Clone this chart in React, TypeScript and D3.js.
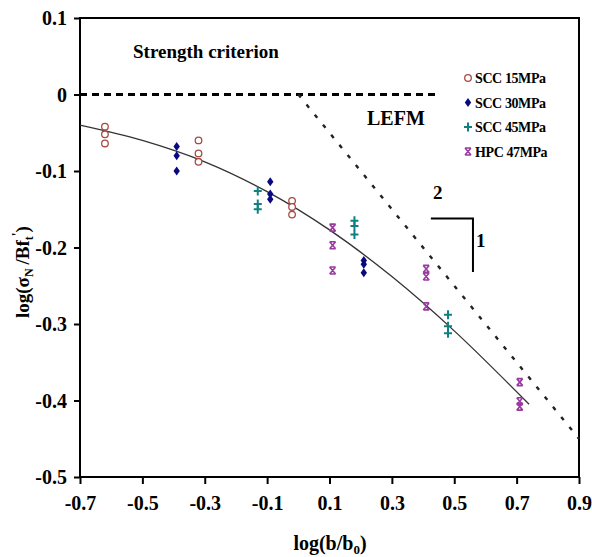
import React, { useEffect, useRef } from 'react';
import * as d3 from 'd3';

// measured points, [log(b/b0), log(sigmaN/Bft')]
const scc15 = [
  [-0.62, -0.042], [-0.62, -0.052], [-0.62, -0.064],
  [-0.32, -0.060], [-0.32, -0.077], [-0.32, -0.088],
  [-0.02, -0.139], [-0.02, -0.147], [-0.02, -0.157],
];
const scc30 = [
  [-0.39, -0.068], [-0.39, -0.080], [-0.39, -0.100],
  [-0.09, -0.114], [-0.09, -0.130], [-0.09, -0.137],
  [0.21, -0.217], [0.21, -0.222], [0.21, -0.233],
];
const scc45 = [
  [-0.13, -0.126], [-0.13, -0.143], [-0.13, -0.150],
  [0.18, -0.165], [0.18, -0.172], [0.18, -0.183],
  [0.48, -0.288], [0.48, -0.303], [0.48, -0.312],
];
const hpc47 = [
  [0.11, -0.174], [0.11, -0.197], [0.11, -0.230],
  [0.41, -0.228], [0.41, -0.238], [0.41, -0.277],
  [0.71, -0.376], [0.71, -0.401], [0.71, -0.408],
];
// fitted size effect curve
const fitCurve = [
  [-0.7, -0.040], [-0.5, -0.060], [-0.3, -0.088], [-0.1, -0.127],
  [0.1, -0.177], [0.3, -0.238], [0.5, -0.309], [0.74, -0.405],
];
const strengthLine = [[-0.7, 0], [0.45, 0]];
const lefmLine = [[0, 0], [0.9, -0.45]];
const slopeMark = [[0.425, -0.162], [0.56, -0.162], [0.56, -0.232]];

const xTicks = [-0.7, -0.5, -0.3, -0.1, 0.1, 0.3, 0.5, 0.7, 0.9];
const yTicks = [0.1, 0, -0.1, -0.2, -0.3, -0.4, -0.5];
const seriesNames = ['SCC 15MPa', 'SCC 30MPa', 'SCC 45MPa', 'HPC 47MPa'];

const FONT = '"Liberation Serif", "Times New Roman", serif';
const fmt = d => (d === 0 ? '0' : d.toFixed(1));

const App = () => {
  const ref = useRef(null);

  useEffect(() => {
    const width = 592;
    const height = 557;
    const margin = { top: 18, right: 13, bottom: 80, left: 80 };

    const x = d3.scaleLinear().domain([-0.7, 0.9]).range([margin.left, width - margin.right]);
    const y = d3.scaleLinear().domain([-0.5, 0.1]).range([height - margin.bottom, margin.top]);

    const svg = d3.select(ref.current)
      .attr('width', width)
      .attr('height', height);
    svg.selectAll('*').remove();

    // frame
    svg.append('rect')
      .attr('x', x(-0.7)).attr('y', y(0.1))
      .attr('width', x(0.9) - x(-0.7)).attr('height', y(-0.5) - y(0.1))
      .attr('fill', 'none').attr('stroke', '#000').attr('stroke-width', 2);

    const xAxis = svg.append('g')
      .attr('transform', `translate(0, ${y(-0.5)})`)
      .call(d3.axisBottom(x).tickValues(xTicks).tickSize(7).tickFormat(fmt));
    xAxis.select('.domain').remove();
    xAxis.selectAll('line').attr('stroke-width', 2);
    xAxis.selectAll('text')
      .attr('font-family', FONT).attr('font-size', 20).attr('font-weight', 'bold')
      .attr('dy', 0).attr('y', 33);

    const yAxis = svg.append('g')
      .attr('transform', `translate(${x(-0.7)}, 0)`)
      .call(d3.axisLeft(y).tickValues(yTicks).tickSize(6).tickFormat(fmt));
    yAxis.select('.domain').remove();
    yAxis.selectAll('line').attr('stroke-width', 2);
    yAxis.selectAll('text')
      .attr('font-family', FONT).attr('font-size', 20).attr('font-weight', 'bold')
      .attr('x', -13).attr('dy', '0.33em');

    const line = d3.line().x(d => x(d[0])).y(d => y(d[1]));

    svg.append('path')
      .attr('d', line(strengthLine))
      .attr('fill', 'none').attr('stroke', '#000')
      .attr('stroke-width', 3).attr('stroke-dasharray', '7,5');

    svg.append('path')
      .attr('d', line(lefmLine))
      .attr('fill', 'none').attr('stroke', '#222')
      .attr('stroke-width', 2.4).attr('stroke-dasharray', '4,9');

    const smooth = d3.line().x(d => x(d[0])).y(d => y(d[1])).curve(d3.curveCatmullRom);
    svg.append('path')
      .attr('d', smooth(fitCurve))
      .attr('fill', 'none').attr('stroke', '#333').attr('stroke-width', 1.3);

    svg.append('path')
      .attr('d', line(slopeMark))
      .attr('fill', 'none').attr('stroke', '#000').attr('stroke-width', 2);

    // markers
    const drawMarker = (g, type, cx, cy) => {
      if (type === 0) {
        g.append('circle').attr('cx', cx).attr('cy', cy).attr('r', 3.3)
          .attr('fill', '#fff').attr('stroke', '#a84a44').attr('stroke-width', 1.3);
      } else if (type === 1) {
        g.append('path')
          .attr('d', `M${cx},${cy - 4.5}L${cx + 3.2},${cy}L${cx},${cy + 4.5}L${cx - 3.2},${cy}Z`)
          .attr('fill', '#0a0a80');
      } else if (type === 2) {
        g.append('path')
          .attr('d', `M${cx - 4},${cy}H${cx + 4}M${cx},${cy - 4.5}V${cy + 4.5}`)
          .attr('stroke', '#118080').attr('stroke-width', 2).attr('fill', 'none');
      } else {
        g.append('path')
          .attr('d', `M${cx - 3},${cy - 3.5}L${cx + 3},${cy + 3.5}M${cx + 3},${cy - 3.5}L${cx - 3},${cy + 3.5}M${cx - 3},${cy - 3.5}H${cx + 3}M${cx - 3},${cy + 3.5}H${cx + 3}`)
          .attr('stroke', '#9a3aa0').attr('stroke-width', 1.6).attr('fill', 'none');
      }
    };

    const pts = svg.append('g');
    [scc15, scc30, scc45, hpc47].forEach((s, i) => {
      s.forEach(d => drawMarker(pts, i, x(d[0]), y(d[1])));
    });

    const label = (tx, ty, txt, size) => svg.append('text')
      .attr('x', tx).attr('y', ty)
      .attr('font-family', FONT)
      .attr('font-size', size).attr('font-weight', 'bold')
      .text(txt);

    // legend
    const legend = svg.append('g');
    seriesNames.forEach((name, i) => {
      const ly = 78 + i * 24.5;
      drawMarker(legend, i, 468, ly);
      label(475, ly + 5, name, 14).attr('letter-spacing', -0.4);
    });

    label(133, 58, 'Strength criterion', 19);
    label(367, 125, 'LEFM', 20);
    label(433, 199, '2', 19);
    label(476, 247, '1', 19);

    // axis titles
    const xt = label(330, 550, '', 20).attr('text-anchor', 'middle');
    xt.append('tspan').text('log(b/b');
    xt.append('tspan').attr('font-size', 13).attr('dy', 4).text('0');
    xt.append('tspan').attr('dy', -4).text(')');

    const yt = label(0, 0, '', 19)
      .attr('transform', 'translate(29, 318) rotate(-90)');
    yt.append('tspan').text('log(σ');
    yt.append('tspan').attr('font-size', 12).attr('dy', 4).text('N');
    yt.append('tspan').attr('dy', -4).text('\u2009/Bf');
    yt.append('tspan').attr('font-size', 12).attr('dy', 4).text('t');
    yt.append('tspan').attr('font-size', 14).attr('dy', -11).text('\'');
    yt.append('tspan').attr('dy', 7).text(')');
  }, []);

  return (
    <div style={{ position: 'absolute', left: 0, top: 0, background: '#fff' }}>
      <svg ref={ref}></svg>
    </div>
  );
};

export default App;
